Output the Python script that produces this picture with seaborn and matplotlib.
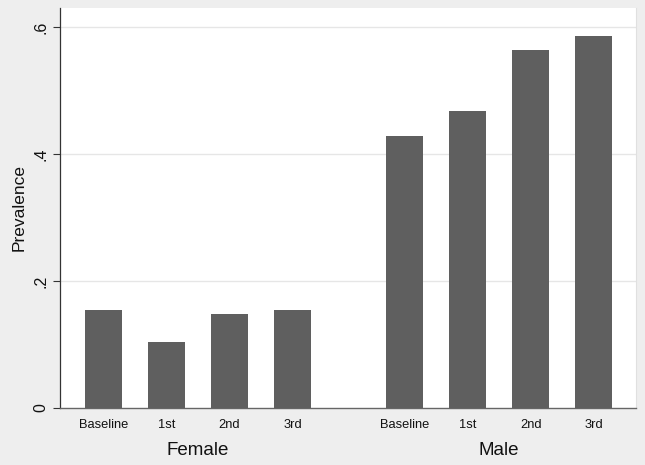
import matplotlib
matplotlib.use("Agg")
import matplotlib.pyplot as plt
import matplotlib.transforms as mtransforms
import pandas as pd
import seaborn as sns

# data
groups = ["Female", "Male"]
waves = ["Baseline", "1st", "2nd", "3rd"]
female_prev = [0.154, 0.104, 0.148, 0.154]
male_prev = [0.428, 0.468, 0.564, 0.586]

group_gap = 0.78  # extra space between the two groups, in bar slots

rows = []
for g, (name, vals) in enumerate(zip(groups, [female_prev, male_prev])):
    for w, (wave, v) in enumerate(zip(waves, vals)):
        rows.append({"group": name, "wave": wave, "prevalence": v,
                     "pos": g * (len(waves) + group_gap) + w})
df = pd.DataFrame(rows)

sns.set_style("white")
plt.rcParams["font.family"] = ["Liberation Sans", "DejaVu Sans"]

fig = plt.figure(figsize=(6.45, 4.65), dpi=100, facecolor="#eeeeee")
ax = fig.add_axes([0.093, 0.1226, 0.893, 0.8604])
ax.set_facecolor("white")

sns.barplot(data=df, x="pos", y="prevalence", native_scale=True,
            color="#5f5f5f", saturation=1, width=0.587, errorbar=None,
            edgecolor="none", ax=ax, zorder=3)

ax.set_xlim(df["pos"].min() - 0.69, df["pos"].max() + 0.67)
ax.set_ylim(0, 0.63)

ax.set_yticks([0, 0.2, 0.4, 0.6])
ax.set_yticklabels(["0", ".2", ".4", ".6"], rotation=90, va="center",
                   fontsize=11.5, color="#111111")
ax.tick_params(axis="y", length=5, width=0.8, color="#333333", pad=3, left=True)
for yv in [0.2, 0.4, 0.6]:
    ax.axhline(yv, color="#e6e6e6", lw=1, zorder=1)

ax.set_xticks(df["pos"])
ax.set_xticklabels(df["wave"], fontsize=9.3, color="#111111")
ax.tick_params(axis="x", length=0, pad=8)
ax.set_xlabel("")
ax.set_ylabel("Prevalence", fontsize=12.5, color="#111111", labelpad=5)

# group labels under the wave labels
trans = mtransforms.blended_transform_factory(ax.transData, ax.transAxes)
for name, sub in df.groupby("group"):
    ax.text(sub["pos"].mean(), -0.107, name, transform=trans, ha="center",
            va="center", fontsize=13.5, color="#111111")

ax.spines["top"].set_visible(False)
ax.spines["right"].set_color("#e0e0e0")
ax.spines["left"].set_color("#333333")
ax.spines["left"].set_linewidth(0.9)
ax.spines["bottom"].set_color("#666666")
ax.spines["bottom"].set_linewidth(1)

fig.savefig("out.png", dpi=100, facecolor=fig.get_facecolor())
